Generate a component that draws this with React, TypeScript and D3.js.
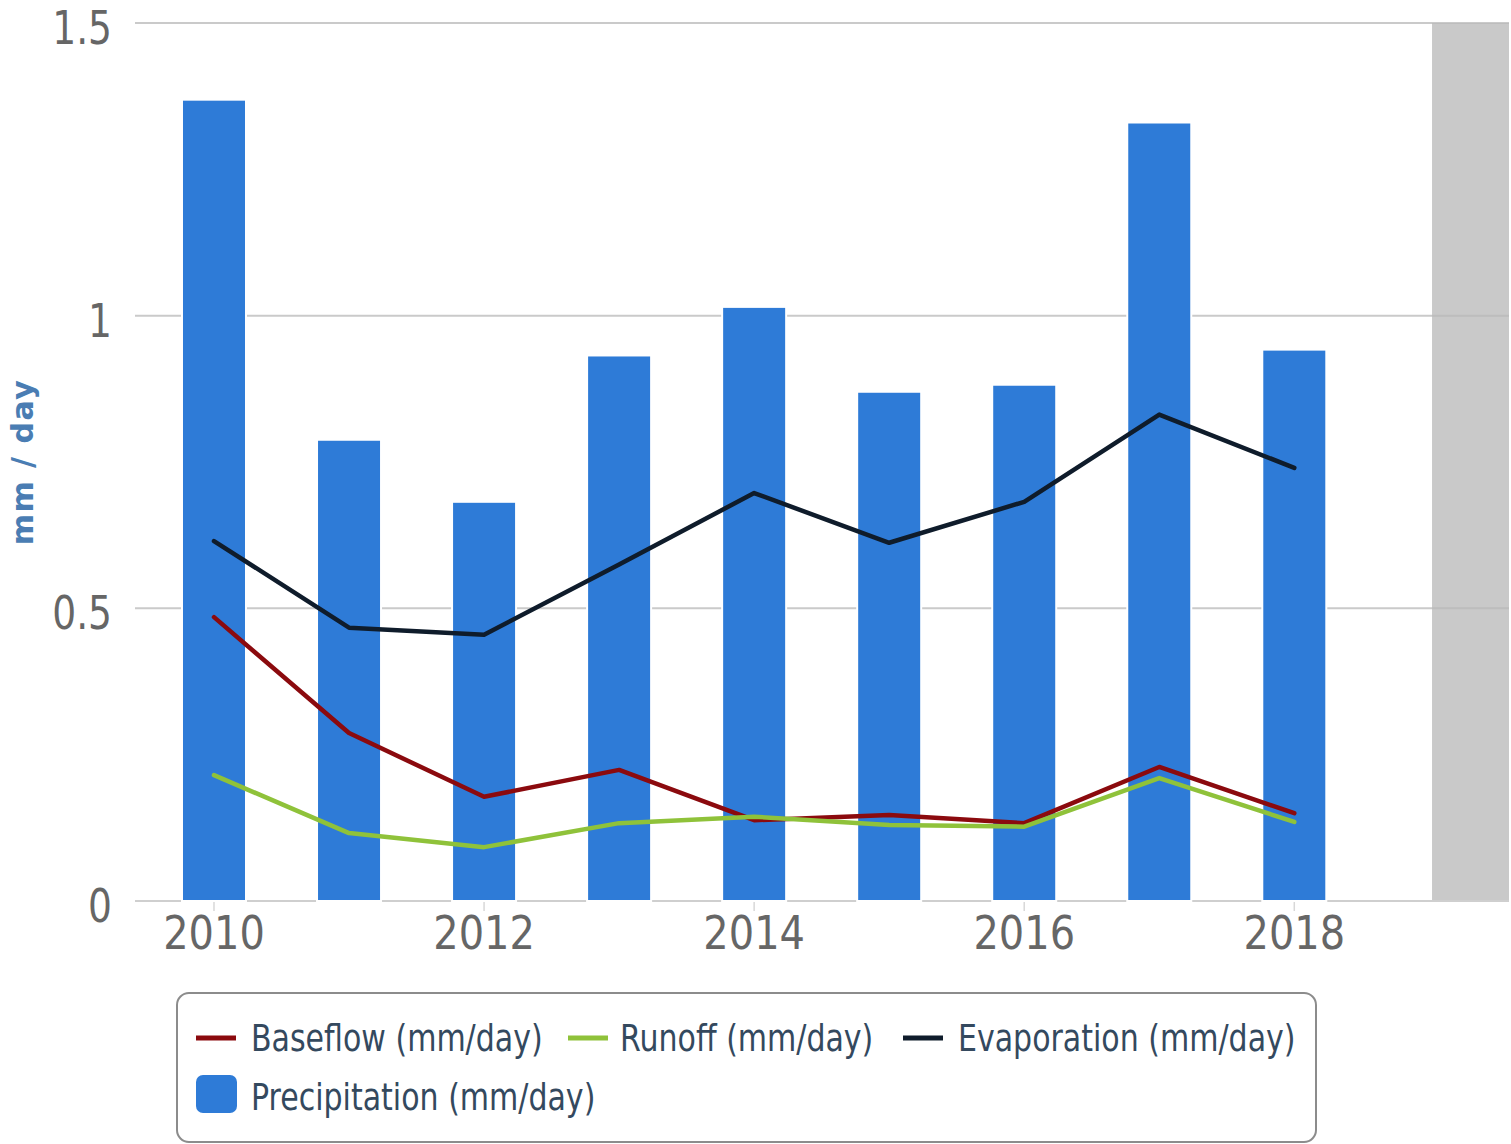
import React from "react";
import * as d3 from "d3";

// Annual water balance, mm/day
const years = [2010, 2011, 2012, 2013, 2014, 2015, 2016, 2017, 2018];
const precipitation = [1.369, 0.788, 0.682, 0.932, 1.015, 0.87, 0.882, 1.33, 0.942];
const evaporation = [0.615, 0.467, 0.455, 0.575, 0.697, 0.612, 0.682, 0.831, 0.74];
const baseflow = [0.485, 0.287, 0.178, 0.224, 0.138, 0.147, 0.133, 0.229, 0.15];
const runoff = [0.215, 0.116, 0.092, 0.133, 0.144, 0.13, 0.127, 0.21, 0.135];

const yTicks = [0, 0.5, 1, 1.5];
const xTickLabels = [2010, 2012, 2014, 2016, 2018];
const bandStart = 2019.02;

const lineSeries = [
  { name: "Baseflow (mm/day)", values: baseflow, color: "#8b0a0e" },
  { name: "Runoff (mm/day)", values: runoff, color: "#8fc23a" },
  { name: "Evaporation (mm/day)", values: evaporation, color: "#0f1c2b" },
];
const barName = "Precipitation (mm/day)";
const barColor = "#2e7bd7";

const W = 1511;
const H = 1144;
const plot = { left: 135, right: 1509, top: 23, bottom: 901 };
const FONT = "'DejaVu Sans', 'Noto Sans', sans-serif";

export default function App() {
  const x = d3.scaleLinear().domain([2009.415, 2019.59]).range([plot.left, plot.right]);
  const y = d3.scaleLinear().domain([0, 1.5]).range([plot.bottom, plot.top]);
  const barW = (x(2011) - x(2010)) * 0.474;

  const line = d3
    .line<number>()
    .x((_, i) => x(years[i]))
    .y((d) => y(d));

  const legendRow1 = [
    { xSym: 196, xText: 251, s: lineSeries[0] },
    { xSym: 568, xText: 620, s: lineSeries[1] },
    { xSym: 903, xText: 958, s: lineSeries[2] },
  ];

  return (
    <svg
      width={W}
      height={H}
      style={{ position: "absolute", left: 0, top: 0, background: "#fff" }}
      fontFamily={FONT}
    >
      {/* shaded period after the last year */}
      <rect
        x={x(bandStart)}
        y={plot.top}
        width={plot.right - x(bandStart)}
        height={plot.bottom - plot.top}
        fill="#c9c9c9"
      />

      {/* horizontal gridlines */}
      {yTicks
        .filter((t) => t > 0)
        .map((t) => (
          <line
            key={t}
            x1={plot.left}
            x2={plot.right}
            y1={y(t)}
            y2={y(t)}
            stroke="#b8b8b8"
            strokeOpacity={0.75}
            strokeWidth={2}
          />
        ))}

      {/* x axis line and ticks */}
      <line x1={plot.left} x2={plot.right} y1={y(0)} y2={y(0)} stroke="#cfcfcf" strokeWidth={2} />
      {xTickLabels.map((t) => (
        <line key={t} x1={x(t)} x2={x(t)} y1={y(0)} y2={y(0) + 10} stroke="#d8d8d8" strokeWidth={1.5} />
      ))}

      {/* precipitation bars */}
      {years.map((yr, i) => (
        <rect
          key={yr}
          x={x(yr) - barW / 2}
          y={y(precipitation[i])}
          width={barW}
          height={y(0) - y(precipitation[i])}
          fill={barColor}
          stroke="#ffffff"
          strokeWidth={2}
        />
      ))}

      {/* line series */}
      {lineSeries.map((s) => (
        <path
          key={s.name}
          d={line(s.values) ?? ""}
          fill="none"
          stroke={s.color}
          strokeWidth={4.5}
          strokeLinejoin="round"
          strokeLinecap="round"
        />
      ))}

      {/* y tick labels */}
      {yTicks.map((t) => (
        <text
          key={t}
          transform={`translate(112, ${y(t) + 21}) scale(0.8, 1)`}
          textAnchor="end"
          fontSize={47}
          fill="#666666"
        >
          {String(t)}
        </text>
      ))}

      {/* x tick labels */}
      {xTickLabels.map((t) => (
        <text
          key={t}
          transform={`translate(${x(t)}, ${949}) scale(0.85, 1)`}
          textAnchor="middle"
          fontSize={47}
          fill="#666666"
        >
          {t}
        </text>
      ))}

      {/* y axis title */}
      <text
        transform="translate(33, 462) rotate(-90)"
        textAnchor="middle"
        fontSize={30}
        fontWeight="bold"
        letterSpacing={1.5}
        fill="#4a7db3"
      >
        mm / day
      </text>

      {/* legend */}
      <rect x={177} y={993} width={1139} height={149} rx={12} fill="#fff" stroke="#8c8c8c" strokeWidth={2} />
      {legendRow1.map(({ xSym, xText, s }) => (
        <g key={s.name}>
          <line x1={xSym} x2={xSym + 40} y1={1038} y2={1038} stroke={s.color} strokeWidth={5} />
          <text
            transform={`translate(${xText}, 1051) scale(0.79, 1)`}
            fontSize={38}
            fill="#34495e"
          >
            {s.name}
          </text>
        </g>
      ))}
      <rect x={196} y={1075} width={41} height={38} rx={7} fill={barColor} />
      <text transform="translate(251, 1110) scale(0.79, 1)" fontSize={38} fill="#34495e">
        {barName}
      </text>
    </svg>
  );
}
